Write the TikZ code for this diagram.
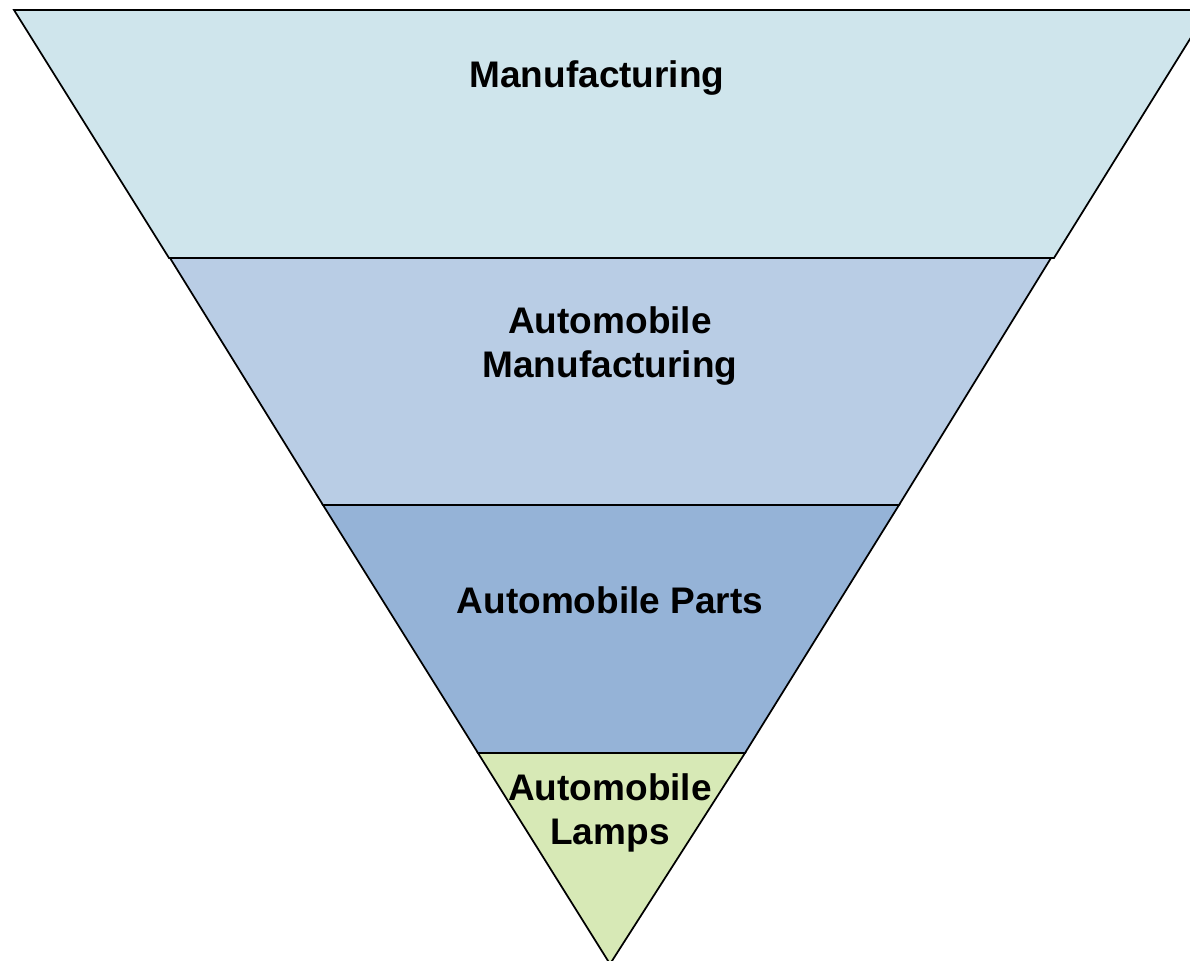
\documentclass[tikz,border=0pt]{standalone}
\usepackage{fontspec}
\setmainfont{Liberation Sans}
\definecolor{bandA}{RGB}{207,229,236}
\definecolor{bandB}{RGB}{185,205,229}
\definecolor{bandC}{RGB}{149,179,215}
\definecolor{bandD}{RGB}{215,233,182}
\begin{document}
\begin{tikzpicture}[x=0.75pt,y=-0.75pt,
  band/.style={draw=black,line width=1.3pt,line join=miter},
  label/.style={font=\fontsize{27.75}{33}\selectfont\bfseries,align=center,inner sep=0pt}]
\useasboundingbox (0,0) rectangle (1190,961);
\begin{scope}
\clip (0,0) rectangle (1190,961);
% four stacked layers of the inverted pyramid
\draw[band,fill=bandA] (14,10) -- (1208,10) -- (1054,258) -- (169,258) -- cycle;
\draw[band,fill=bandB] (170,258) -- (1051,258) -- (899,505) -- (323,505) -- cycle;
\draw[band,fill=bandC] (323,505) -- (899,505) -- (745,753) -- (478,753) -- cycle;
\draw[band,fill=bandD] (478,753) -- (745,753) -- (610,964) -- cycle;
\end{scope}
\node[label] (manuf) at (597,78) {Manufacturing};
\node[label] (auto) at (610,346) {Automobile\\Manufacturing};
\node[label] (parts) at (610,600) {Automobile Parts};
\node[label] (lamps) at (610,813) {Automobile\\Lamps};
\end{tikzpicture}
\end{document}
